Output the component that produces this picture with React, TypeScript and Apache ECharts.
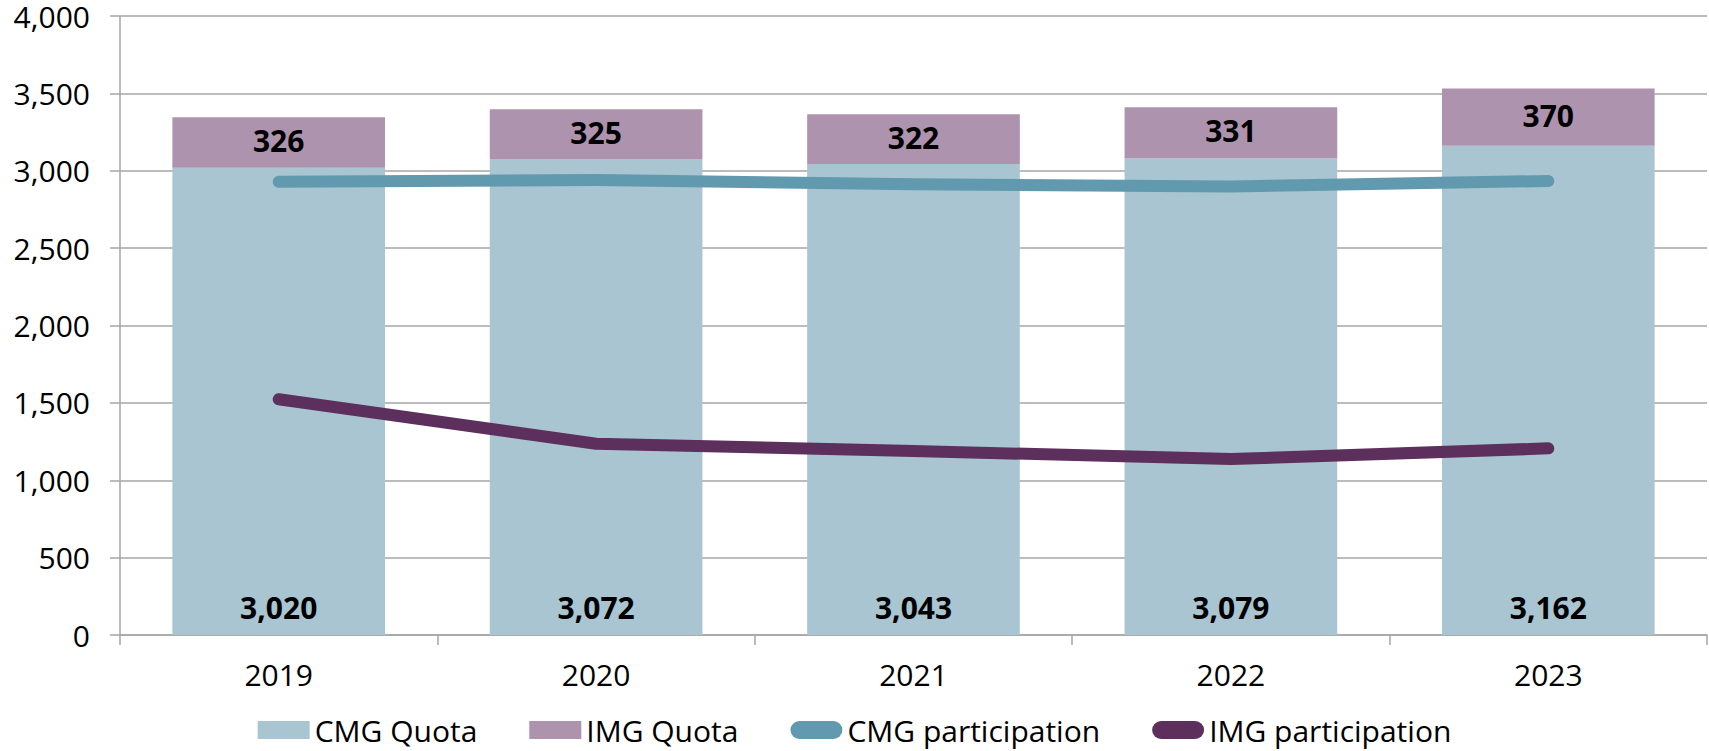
import React, { useEffect, useRef } from "react";
import * as echarts from "echarts";

const categories = ["2019", "2020", "2021", "2022", "2023"];
const cmgQuota = [3020, 3072, 3043, 3079, 3162];
const imgQuota = [326, 325, 322, 331, 370];
const cmgParticipation = [2929, 2940, 2912, 2899, 2934];
const imgParticipation = [1523, 1236, 1189, 1137, 1206];

const FONT = "'Open Sans', 'Noto Sans', sans-serif";
const fmt = (v: number) => Number(v).toLocaleString("en-US");
const capsule = "path://M9,0 L43,0 A9,9 0 0 1 43,18 L9,18 A9,9 0 0 1 9,0 Z";

export default function App() {
  const ref = useRef<HTMLDivElement>(null);
  useEffect(() => {
    document.body.style.margin = "0";
    const chart = echarts.init(ref.current!, null, { renderer: "svg" });
    chart.setOption({
      animation: false,
      textStyle: { fontFamily: FONT },
      grid: { left: 120, right: 2, top: 16, bottom: 116, containLabel: false },
      legend: {
        left: "center",
        top: 712,
        padding: 0,
        itemWidth: 52,
        itemHeight: 18,
        itemGap: 52,
        textStyle: { fontSize: 30, color: "#000", fontFamily: FONT, lineHeight: 36 },
        data: [
          { name: "CMG Quota", icon: "rect" },
          { name: "IMG Quota", icon: "rect" },
          { name: "CMG participation", icon: capsule },
          { name: "IMG participation", icon: capsule },
        ],
      },
      xAxis: {
        type: "category",
        data: categories,
        axisLine: { show: true, lineStyle: { color: "#a6a6a6", width: 1.5 } },
        axisTick: { show: true, length: 10, interval: 0, lineStyle: { color: "#a6a6a6", width: 1.5 } },
        axisLabel: { fontSize: 30, color: "#000", margin: 24, fontFamily: FONT },
        splitLine: { show: false },
      },
      yAxis: {
        type: "value",
        min: 0,
        max: 4000,
        interval: 500,
        axisLine: { show: true, lineStyle: { color: "#a6a6a6", width: 1.5 } },
        axisTick: { show: true, length: 10, lineStyle: { color: "#a6a6a6", width: 1.5 } },
        axisLabel: { fontSize: 30, lineHeight: 26, color: "#000", margin: 30, formatter: (v: number) => fmt(v), fontFamily: FONT },
        splitLine: { show: true, lineStyle: { color: "#a6a6a6", width: 1.5 } },
      },
      series: [
        {
          name: "CMG Quota",
          type: "bar",
          stack: "q",
          data: cmgQuota,
          barCategoryGap: "33%",
          itemStyle: { color: "#a8c5d1" },
          label: {
            show: true,
            position: "insideBottom",
            distance: 13,
            fontSize: 30,
            fontWeight: "bold",
            color: "#000",
            fontFamily: FONT,
            formatter: (p: any) => fmt(p.value),
          },
        },
        {
          name: "IMG Quota",
          type: "bar",
          stack: "q",
          data: imgQuota,
          itemStyle: { color: "#ad93ad" },
          label: {
            show: true,
            position: "inside",
            offset: [0, -2],
            fontSize: 30,
            fontWeight: "bold",
            color: "#000",
            fontFamily: FONT,
            formatter: (p: any) => fmt(p.value),
          },
        },
        {
          name: "CMG participation",
          type: "line",
          data: cmgParticipation,
          symbol: "none",
          z: 5,
          itemStyle: { color: "#6199af" },
          lineStyle: { color: "#6199af", width: 12, cap: "round", join: "round" },
        },
        {
          name: "IMG participation",
          type: "line",
          data: imgParticipation,
          symbol: "none",
          z: 5,
          itemStyle: { color: "#5c2f5c" },
          lineStyle: { color: "#5c2f5c", width: 12, cap: "round", join: "round" },
        },
      ],
    });
    return () => chart.dispose();
  }, []);
  return <div ref={ref} style={{ position: "absolute", left: 0, top: 0, width: 1709, height: 751 }} />;
}
